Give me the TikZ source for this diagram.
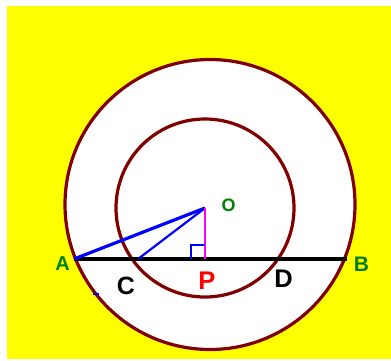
\documentclass[tikz,border=0pt]{standalone}
\usepackage{fontspec}
\setmainfont{Liberation Sans}
\usetikzlibrary{calc}
\definecolor{bg}{RGB}{255,255,0}
\definecolor{circ}{RGB}{128,0,0}
\definecolor{lblgreen}{RGB}{0,128,0}
\definecolor{mag}{RGB}{255,0,255}
\definecolor{bl}{RGB}{0,0,255}
\tikzset{
  circline/.style={draw=circ, line width=3.2pt},
  lbl/.style={font=\bfseries, inner sep=0pt, anchor=center},
}
\begin{document}
\begin{tikzpicture}[x=1pt,y=-1pt]
\useasboundingbox (0,0) rectangle (391,360);
\fill[white] (0,0) rectangle (391,360);
\fill[bg] (7,6) rectangle (391,359);
% circles
\fill[white] (210,204.5) circle[radius=145];
\draw[circline] (210,204.5) circle[radius=145];
\draw[circline] (205,208) circle[radius=89];
% points
\coordinate (O) at (205,208);
\coordinate (A) at (74,259);
\coordinate (B) at (347,259);
\coordinate (C) at (138,259);
\coordinate (P) at (205,259);
\coordinate (D) at (277,259);
\coordinate (t1) at (93,294);
\coordinate (t2) at (99,294);
% chord
\draw[black, line width=3.2pt] (A) -- (B);
% blue lines
\draw[bl, line width=3.2pt] (A) -- (O);
\draw[bl, line width=2.2pt] (C) -- (O);
% magenta
\draw[mag, line width=2.8pt] (O) -- (P);
% right angle
\draw[bl, line width=2.8pt] ($(P)+(0,-14)$) -- ++(-14,0) -- ++(0,14);
\draw[bl, line width=1.8pt] (t1) -- (t2);
% labels
\node[lbl, text=lblgreen, font=\bfseries\fontsize{20}{21}\selectfont] (lA) at (62.5,264) {A};
\node[lbl, text=lblgreen, font=\bfseries\fontsize{21}{22}\selectfont] (lB) at (361.5,264) {B};
\node[lbl, text=lblgreen, font=\bfseries\fontsize{18}{19}\selectfont] (lO) at (228.5,205) {O};
\node[lbl, text=black, font=\bfseries\fontsize{25}{26}\selectfont] (lC) at (126,286) {C};
\node[lbl, text=red, font=\bfseries\fontsize{25.5}{26}\selectfont] (lP) at (207,281) {P};
\node[lbl, text=black, font=\bfseries\fontsize{25.5}{26}\selectfont] (lD) at (283.5,279) {D};
\end{tikzpicture}
\end{document}
